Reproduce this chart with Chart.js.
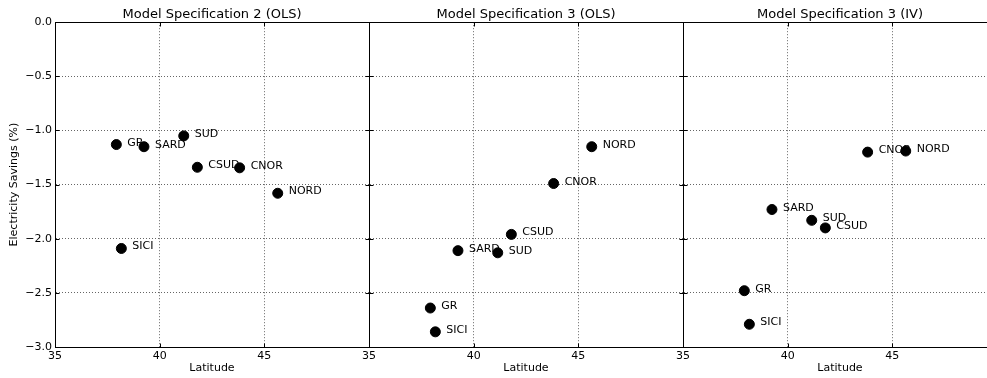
<!DOCTYPE html>
<html>
<head>
<meta charset="utf-8">
<script src="https://cdn.jsdelivr.net/npm/chart.js@4.4.0/dist/chart.umd.min.js"></script>
<style>
  html, body { margin: 0; padding: 0; background: #fff; overflow: hidden; }
  body { width: 987px; height: 378px; position: relative; }
  canvas { position: absolute; top: 0; }
</style>
</head>
<body>
<canvas id="spec2ols" width="372" height="378" style="left:0px"></canvas>
<canvas id="spec3ols" width="372" height="378" style="left:314px"></canvas>
<canvas id="spec3iv" width="372" height="378" style="left:628px"></canvas>
<script>
const regions = ["NORD", "CNOR", "CSUD", "SUD", "SARD", "SICI", "GR"];
const latitude = [45.64, 43.82, 41.8, 41.15, 39.25, 38.17, 37.93];

const spec2Ols = [-1.58, -1.345, -1.34, -1.05, -1.15, -2.09, -1.13];
const spec3Ols = [-1.15, -1.49, -1.96, -2.13, -2.11, -2.86, -2.64];
const spec3Iv = [-1.19, -1.20, -1.90, -1.83, -1.73, -2.79, -2.48];

const xTicks = [35, 40, 45];
const FONT = "'DejaVu Sans', sans-serif";

// rectangle round the plot plus inward ticks on every side
const frame = {
  id: "frame",
  afterDraw(chart) {
    const { ctx, chartArea: a, scales: { x, y } } = chart;
    const l = Math.round(a.left) + 0.5, r = Math.round(a.right) + 0.5;
    const t = Math.round(a.top) + 0.5, b = Math.round(a.bottom) + 0.5;
    ctx.save();
    ctx.strokeStyle = "#000";
    ctx.lineWidth = 1;
    ctx.beginPath();
    x.ticks.forEach(tk => {
      const px = Math.round(x.getPixelForValue(tk.value)) + 0.5;
      ctx.moveTo(px, b); ctx.lineTo(px, b - 4);
      ctx.moveTo(px, t); ctx.lineTo(px, t + 4);
    });
    y.ticks.forEach(tk => {
      const py = Math.round(y.getPixelForValue(tk.value)) + 0.5;
      ctx.moveTo(l, py); ctx.lineTo(l + 4, py);
      ctx.moveTo(r, py); ctx.lineTo(r - 4, py);
    });
    ctx.stroke();
    ctx.strokeRect(l, t, r - l, b - t);
    ctx.restore();
  }
};

// region names next to each point
const pointNames = {
  id: "pointNames",
  afterDatasetsDraw(chart) {
    const { ctx } = chart;
    const meta = chart.getDatasetMeta(0);
    ctx.save();
    ctx.fillStyle = "#000";
    ctx.font = "11px " + FONT;
    ctx.textBaseline = "alphabetic";
    ctx.textAlign = "left";
    meta.data.forEach((pt, i) => {
      ctx.fillText(regions[i], pt.x + 11, pt.y + 1);
    });
    ctx.restore();
  }
};

function crearPanel(id, titulo, valores, conEjeY) {
  const puntos = latitude.map((lat, i) => ({ x: lat, y: valores[i] }));

  return new Chart(document.getElementById(id), {
    type: "scatter",
    data: {
      datasets: [{
        data: puntos,
        backgroundColor: "#000",
        borderColor: "#000",
        pointRadius: 5,
        pointHoverRadius: 5
      }]
    },
    options: {
      responsive: false,
      animation: false,
      events: [],
      layout: { autoPadding: false, padding: { left: 0, right: 3, top: 0, bottom: 0 } },
      plugins: {
        legend: { display: false },
        tooltip: { enabled: false },
        title: {
          display: true,
          text: titulo,
          fullSize: false,
          color: "#000",
          font: { family: FONT, size: 13, weight: "normal" },
          padding: { top: 6.6, bottom: 0 }
        }
      },
      scales: {
        x: {
          type: "linear",
          min: 35,
          max: 50,
          afterFit: s => { s.height = 31; },
          afterBuildTicks: s => { s.ticks = xTicks.map(v => ({ value: v })); },
          ticks: {
            color: "#000",
            font: { family: FONT, size: 11 },
            padding: 3,
            maxRotation: 0,
            autoSkip: false
          },
          grid: { color: "rgba(0,0,0,0.6)", drawTicks: false, lineWidth: 1 },
          border: { color: "#000", width: 1, dash: [1, 2] },
          title: {
            display: true,
            text: "Latitude",
            color: "#000",
            font: { family: FONT, size: 11 },
            padding: { top: 0, bottom: 3.4 }
          }
        },
        y: {
          type: "linear",
          min: -3,
          max: 0,
          afterFit: s => { s.width = 55; },
          ticks: {
            display: conEjeY,
            stepSize: 0.5,
            color: "#000",
            font: { family: FONT, size: 11 },
            padding: 3,
            callback: v => v.toFixed(1).replace("-", "\u2212")
          },
          grid: { color: "rgba(0,0,0,0.6)", drawTicks: false, lineWidth: 1 },
          border: { color: "#000", width: 1, dash: [1, 2] },
          title: {
            display: conEjeY,
            text: "Electricity Savings (%)",
            color: "#000",
            font: { family: FONT, size: 11 },
            padding: { top: 7.4, bottom: 0 }
          }
        }
      }
    },
    plugins: [frame, pointNames]
  });
}

crearPanel("spec2ols", "Model Specification 2 (OLS)", spec2Ols, true);
crearPanel("spec3ols", "Model Specification 3 (OLS)", spec3Ols, false);
crearPanel("spec3iv", "Model Specification 3 (IV)", spec3Iv, false);
</script>
</body>
</html>
